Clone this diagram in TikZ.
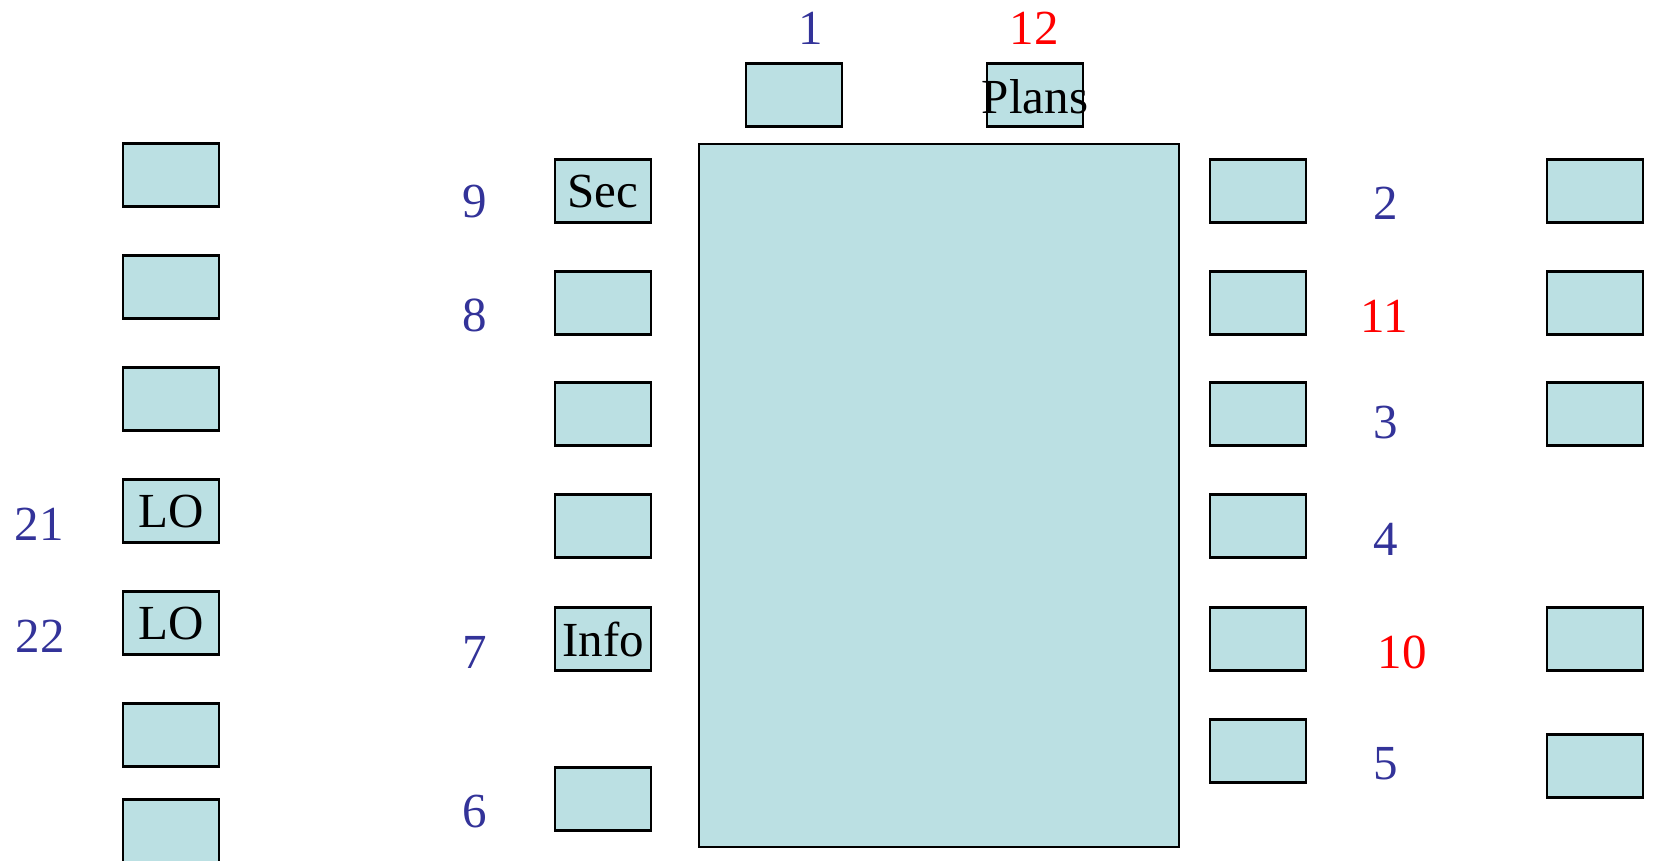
\documentclass[tikz,border=0pt]{standalone}
\usepackage{fontspec}
\setmainfont{Liberation Serif}
\usepackage{tikz}
\usetikzlibrary{positioning}
\definecolor{padfill}{RGB}{187,224,227}
\definecolor{numblue}{RGB}{51,51,153}
\definecolor{numred}{RGB}{255,0,0}

\begin{document}
\begin{tikzpicture}[
    x=0.5pt, y=-0.5pt,
    font=\fontsize{24.5}{29}\selectfont,
    pad/.style={rectangle, draw=black, line width=1.2pt, fill=padfill,
                minimum width=48pt, minimum height=31.5pt, inner sep=0pt,
                text depth=0pt},
    core/.style={rectangle, draw=black, line width=1.2pt, fill=padfill,
                 minimum width=240pt, minimum height=351.5pt, inner sep=0pt},
    txt/.style={inner sep=0pt, text=black},
    num/.style={inner sep=0pt, text=numblue},
    hot/.style={inner sep=0pt, text=numred}
]
\clip (0,0) rectangle (1653,861);
% centre block
\node[core] (core) at (939, 795/2+98) {};
% top row
\node[pad] (t1) at (794, 95) {};
\node[pad, label={[txt, yshift=-1pt]center:Plans}] (plans) at (1035, 95) {};
\node[num] (n1)  at (811, 28)  {1};
\node[hot] (n12) at (1034, 28) {12};
% far left column
\node[pad] (l1) at (171, 175) {};
\node[pad] (l2) at (171, 287) {};
\node[pad] (l3) at (171, 399) {};
\node[pad] (l4) at (171, 511) {LO};
\node[pad] (l5) at (171, 623) {LO};
\node[pad] (l6) at (171, 735) {};
\node[pad] (l7) at (171, 831) {};
\node[num] (n21) at (39, 524) {21};
\node[num] (n22) at (40, 636) {22};
% inner left column
\node[pad] (m1) at (603, 191) {Sec};
\node[pad] (m2) at (603, 303) {};
\node[pad] (m3) at (603, 414) {};
\node[pad] (m4) at (603, 526) {};
\node[pad] (m5) at (603, 639) {Info};
\node[pad] (m6) at (603, 799) {};
\node[num] (n9) at (475, 202) {9};
\node[num] (n8) at (475, 315) {8};
\node[num] (n7) at (475, 652) {7};
\node[num] (n6) at (475, 812) {6};
% inner right column
\node[pad] (r1) at (1258, 191) {};
\node[pad] (r2) at (1258, 303) {};
\node[pad] (r3) at (1258, 414) {};
\node[pad] (r4) at (1258, 526) {};
\node[pad] (r5) at (1258, 639) {};
\node[pad] (r6) at (1258, 751) {};
\node[num] (n2)  at (1386, 203) {2};
\node[hot] (n11) at (1384, 316) {11};
\node[num] (n3)  at (1386, 423) {3};
\node[num] (n4)  at (1386, 539) {4};
\node[hot] (n10) at (1402, 652) {10};
\node[num] (n5)  at (1386, 764) {5};
% far right column
\node[pad] (f1) at (1595, 191) {};
\node[pad] (f2) at (1595, 303) {};
\node[pad] (f3) at (1595, 414) {};
\node[pad] (f4) at (1595, 639) {};
\node[pad] (f5) at (1595, 766) {};
\end{tikzpicture}
\end{document}
